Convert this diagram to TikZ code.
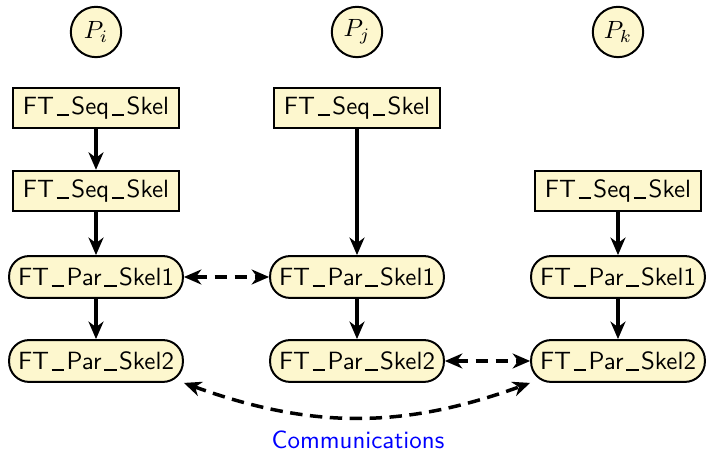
\documentclass[tikz,border=0pt]{standalone}
\usepackage{tikz}
\usetikzlibrary{positioning}
\usetikzlibrary{calc}
\usetikzlibrary{arrows.meta}

\definecolor{skelyellow}{RGB}{253,247,206}
% spaced underscore for the skeleton names
\newcommand{\skus}{\kern.1em\lower.6pt\vbox{\hrule height .8pt width .5em}\kern.1em}

\begin{document}
\begin{tikzpicture}[x=0.0141cm, y=-0.0141cm, font=\sffamily,
  proc/.style={circle, draw, thick, fill=skelyellow, minimum size=0.71cm, inner sep=0pt},
  seqskel/.style={rectangle, draw, thick, fill=skelyellow, inner xsep=2pt, minimum width=2.35cm, minimum height=0.57cm},
  parskel/.style={rectangle, rounded corners=8pt, draw, thick, fill=skelyellow, inner xsep=2pt, minimum width=2.45cm, minimum height=0.59cm},
  flow/.style={-{Stealth[length=7pt, width=6pt, inset=2.2pt]}, line width=1.4pt},
  comm/.style={{Stealth[length=7pt, width=6pt, inset=2.2pt]}-{Stealth[length=7pt, width=6pt, inset=2.2pt]},
    line width=1.4pt, dash pattern=on 5pt off 3pt}]

   \useasboundingbox (0,0) rectangle (706,454);

    %----------------------------------------------------------
    % Processes
    %----------------------------------------------------------
   \node[proc] (pi) at (96,32) {$P_i$};
   \node[proc] (pj) at (357,32) {$P_j$};
   \node[proc] (pk) at (618,32) {$P_k$};

    %----------------------------------------------------------
    % Skeletons of each process
    %----------------------------------------------------------
   \node[seqskel] (seqi1) at (96,108) {FT\skus Seq\skus Skel};
   \node[seqskel] (seqi2) at (96,191) {FT\skus Seq\skus Skel};
   \node[parskel] (pari1) at (96,277) {FT\skus Par\skus Skel1};
   \node[parskel] (pari2) at (96,361) {FT\skus Par\skus Skel2};

   \node[seqskel] (seqj1) at (357,108) {FT\skus Seq\skus Skel};
   \node[parskel] (parj1) at (357,277) {FT\skus Par\skus Skel1};
   \node[parskel] (parj2) at (357,361) {FT\skus Par\skus Skel2};

   \node[seqskel] (seqk1) at (618,191) {FT\skus Seq\skus Skel};
   \node[parskel] (park1) at (618,277) {FT\skus Par\skus Skel1};
   \node[parskel] (park2) at (618,361) {FT\skus Par\skus Skel2};

   % sequential flow
   \draw[flow] (seqi1) -- (seqi2);
   \draw[flow] (seqi2) -- (pari1);
   \draw[flow] (pari1) -- (pari2);
   \draw[flow] (seqj1) -- (parj1);
   \draw[flow] (parj1) -- (parj2);
   \draw[flow] (seqk1) -- (park1);
   \draw[flow] (park1) -- (park2);

    %----------------------------------------------------------
    % Communications between parallel skeletons
    %----------------------------------------------------------
   \draw[comm] (pari1) -- (parj1);
   \draw[comm] (parj2) -- (park2);
   \draw[comm] (pari2.south east) to[bend right=20] (park2.south west);
   \node[blue] (commlabel) at (358,440) {Communications};

\end{tikzpicture}
\end{document}
